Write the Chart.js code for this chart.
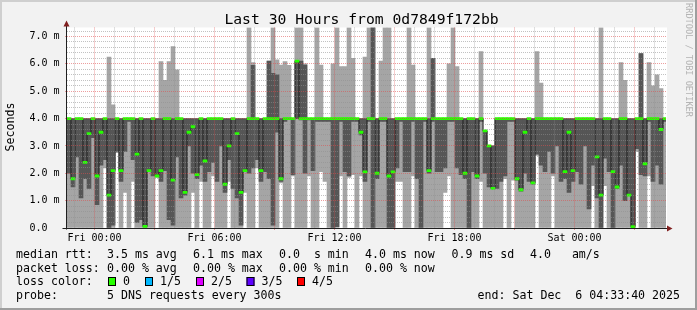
<!DOCTYPE html>
<html><head><meta charset="utf-8">
<script src="https://cdn.jsdelivr.net/npm/chart.js@4.4.1/dist/chart.umd.min.js"></script>
<style>html,body{margin:0;padding:0;background:#f2f2f2;}canvas{display:block;}</style>
</head><body>
<div style="width:697px;height:310px;position:relative"><canvas id="c" width="697" height="310"></canvas></div>
<script>
// time axis in hours relative to Fri 00:00; each column = 12 minutes
const START_HOUR = -1.375, END_HOUR = 28.575, STEP = 0.2;

// smoke: min, 2nd ping, median, 4th ping, max (ms)
const pingMin = [
0,0,0,0,0,0,0,0,0,2.2, 0,0,2.75,0,1.3,0,1.7,0,0,0,
0,0,1.85,0,0,0,0,0,0,0, 0,1.3,0,1.7,0,0,1.9,0,0,0,
1.7,0,0,0,1.3,0,0,2.2,0,0, 0,0,0,1.65,0,0,1.9,0,0,0,
1.9,0,0,2.06,1.7,0,0,0,1.9,0, 1.85,1.95,0,1.9,0,0,0,0,0,0,
0,0,1.7,1.7,0,0,1.9,0,0,0, 0,0,0,0,1.3,1.9,0,0,0,0,
0,0,0,1.7,0,0,0,0,0,1.8, 0,1.75,0,0,0,0,0,2.65,0,0,
0,1.9,0,0,0,0,0,0,0,0, 0,1.55,0,0,1.55,0,0,0,0,0,
0,0,2.8,0,0,1.9,0,0,0,0];
const pingLow = [
2.0,1.5,2.6,1.1,1.8,1.45,3.3,0.85,2.3,2.5, 0.0,0.1,2.8,1.7,2.8,3.9,2.5,0.2,0.3,0.05,
2.1,1.9,1.9,1.7,2.1,0.3,0.1,2.6,1.1,1.2, 3.0,2.0,1.8,2.3,1.7,2.06,2.4,1.7,3.0,1.3,
2.5,1.45,1.1,0.1,2.06,2.0,2.2,2.5,1.7,2.06, 1.8,0.1,3.5,1.7,3.9,4.0,1.95,4.0,3.95,2.0,
3.95,2.1,3.9,3.9,3.9,3.9,0.0,0.05,3.9,2.06, 1.9,3.9,3.9,3.4,1.7,3.9,0.0,1.8,3.9,3.9,
0.0,0.0,2.2,3.9,2.06,2.06,3.9,1.8,0.0,3.9, 2.0,3.9,2.06,2.06,2.2,3.9,3.9,2.2,1.95,1.8,
0.0,2.06,1.8,3.9,2.0,1.5,1.45,1.45,1.7,1.9, 3.9,3.9,1.75,1.35,2.0,1.7,1.6,2.7,2.3,2.06,
2.8,2.0,3.0,1.7,1.8,1.3,1.7,2.06,1.6,3.0, 0.7,2.3,1.1,0.0,2.55,2.06,0.0,1.45,2.3,1.0,
1.2,0.03,2.9,1.95,1.9,3.9,1.7,2.3,1.6,3.9];
const pingMedian = [
4,1.8,4,4,2.4,3.45,4,1.9,3.5,4, 1.2,2.1,4,2.1,4,4,4,2.7,4,0.06,
2.1,4,1.9,2.1,4,4,1.75,4,4,1.3, 3.5,3.7,1.95,4,2.45,4,4,4,4,1.6,
3.0,4,3.45,1.3,2.1,4,4,4,2.1,4, 4,4,4,1.8,4,4,4,6.1,4,4,
4,4,4,4,4,4,4,4,4,4, 4,4,4,3.5,2.05,4,4,2.0,4,4,
1.9,2.05,4,4,4,4,4,4,4,4, 2.1,4,4,4,4,4,4,4,4,2.0,
4,4,1.9,4,3.55,3.0,1.45,4,4,4, 4,4,1.8,1.4,3.5,4,1.65,4,4,4,
4,4,4,4,2.06,3.5,2.1,4,4,4, 4,4,2.6,1.2,4,4,2.06,1.5,4,4,
1.2,0.05,4,4,2.35,4,4,4,3.6,4];
const pingHigh = [
4,4,4,4,4,4,4,4,4,4, 4,4,4,4,4,4,4,4,4,4,
4,4,4,4,4,4,4,4,4,4, 4,4,4,4,4,4,4,4,4,4,
4,4,4,4,4,4,5.95,4,4,4, 6.1,5.65,5.6,4,4,4,4,6.1,6.1,5.96,
4,4,4,4,4,4,4,4,4,4, 4,4,4,4,4,4,7.33,4,4,4,
4,4,4,4,4,4,4,4,4,4, 4,6.2,4,4,4,4,4,4,4,4,
4,4,4,4,3.55,3.0,3.0,4,4,4, 4,4,4,4,4,4,4,4,4,4,
4,4,4,4,4,4,4,4,4,4, 4,4,4,4,4,4,4,4,4,4,
4,4,4,6.38,4,4,4,4,4,4];
const pingMax = [
4,4,4,4,4,4,4,4,4,4, 6.25,4.5,4,4,4,4,4,4,4,4,
4,4,4,6.08,5.4,6.08,6.63,5.78,4,4, 4,4,4,4,4,4,4,4,4,4,
4,4,4,4,4,7.33,6.05,4,4,4, 6.1,7.33,6.15,5.96,6.08,5.95,4,7.33,7.33,6.0,
4,4,7.33,5.96,4,4,6.0,7.33,5.9,5.9, 7.33,6.2,4,4,6.25,7.33,7.33,4,6.1,7.33,
7.33,4,4,4,4,7.33,5.96,4,4,4, 7.33,6.2,4,4,4,6.0,7.33,5.9,4,4,
4,4,4,6.45,3.55,3.0,3.0,4,4,4, 4,4,4,4,4,4,4,6.45,5.3,4,
4,4,4,4,4,4,4,4,4,4, 4,4,4,7.33,4,4,4,4,6.05,5.4,
4,4,4,6.38,4,6.05,5.2,5.6,5.1,4];

const xGridHours = [-1,0,1,2,3,4,5,6,7,8,9,10,11,12,13,14,15,16,17,18,19,20,21,22,23,24,25,26,27,28];
const xLabelHours = [0, 6, 12, 18, 24];
const xLabelNames = ['Fri 00:00', 'Fri 06:00', 'Fri 12:00', 'Fri 18:00', 'Sat 00:00'];
const yTickLabels = ['0.0  ', '1.0 m', '2.0 m', '3.0 m', '4.0 m', '5.0 m', '6.0 m', '7.0 m'];
const Y_MAX = 7.33;

const lossLabels = ['0', '1/5', '2/5', '3/5', '4/5'];
const lossColors = ['#26ff00', '#00b8ff', '#dd00ff', '#5e00ff', '#ff0000'];

const MAJOR = 'rgba(222,79,79,0.55)';
const MINOR = 'rgba(143,143,143,0.55)';
const FONT = "'DejaVu Sans Mono', monospace";

const times = pingMin.map((_, i) => START_HOUR + STEP * (i + 0.5));
const band = (lo, hi) => times.map((t, i) => ({x: t, y: [lo[i], hi[i]]}));
const medianPts = times.map((t, i) => ({x: t, y: pingMedian[i]}));
const medianMarks = times.map((t, i) => ({x: t, y: [pingMedian[i] - 0.04, pingMedian[i] + 0.04]}));

const isInt = v => Math.abs(v - Math.round(v)) < 1e-6;

const decor = {
  id: 'decor',
  beforeDraw(chart) {
    const {ctx, chartArea: a} = chart;
    ctx.save();
    ctx.fillStyle = '#f2f2f2'; ctx.fillRect(0, 0, 697, 310);
    ctx.fillStyle = '#cfcfcf'; ctx.fillRect(0, 0, 697, 2); ctx.fillRect(0, 0, 2, 310);
    ctx.fillStyle = '#9e9e9e'; ctx.fillRect(0, 308, 697, 2); ctx.fillRect(695, 0, 2, 310);
    ctx.fillStyle = '#ffffff'; ctx.fillRect(a.left, a.top, a.right - a.left + 1, a.bottom - a.top);
    ctx.restore();
  },
  afterDraw(chart) {
    const {ctx, chartArea: a} = chart;
    ctx.save();
    // axes
    ctx.strokeStyle = '#1f1f1f'; ctx.lineWidth = 1;
    const ax = Math.round(a.left) - 0.5, ay = Math.round(a.bottom) + 0.5;
    ctx.beginPath(); ctx.moveTo(ax, ay + 1); ctx.lineTo(ax, 24); ctx.stroke();
    ctx.beginPath(); ctx.moveTo(ax - 4, ay); ctx.lineTo(a.right + 3, ay); ctx.stroke();
    ctx.fillStyle = '#801f1f';
    ctx.beginPath(); ctx.moveTo(ax - 3, 26.5); ctx.lineTo(ax + 3, 26.5); ctx.lineTo(ax, 20.5); ctx.closePath(); ctx.fill();
    ctx.beginPath(); ctx.moveTo(a.right + 1, ay - 3); ctx.lineTo(a.right + 1, ay + 3); ctx.lineTo(a.right + 6.5, ay); ctx.closePath(); ctx.fill();

    // title
    ctx.fillStyle = '#000';
    ctx.font = '14.7px ' + FONT; ctx.textAlign = 'center'; ctx.textBaseline = 'alphabetic';
    ctx.fillText('Last 30 Hours from 0d7849f172bb', 361.5, 24);

    // y axis title
    ctx.save(); ctx.translate(11, 127); ctx.rotate(-Math.PI / 2);
    ctx.font = '11.6px ' + FONT; ctx.textBaseline = 'middle'; ctx.textAlign = 'center';
    ctx.fillText('Seconds', 0, 0); ctx.restore();

    // watermark
    ctx.save(); ctx.translate(688, 60); ctx.rotate(Math.PI / 2);
    ctx.font = '8.6px ' + FONT; ctx.fillStyle = '#b4b4b4'; ctx.textBaseline = 'middle'; ctx.textAlign = 'center';
    ctx.fillText('RRDTOOL / TOBI OETIKER', 0, 0); ctx.restore();

    // legend
    ctx.font = '11.6px ' + FONT; ctx.textAlign = 'left'; ctx.textBaseline = 'alphabetic'; ctx.fillStyle = '#000';
    const row = (y, parts) => parts.forEach(([x, s]) => ctx.fillText(s, x, y));
    row(258, [[16, 'median rtt:'], [107, '3.5 ms avg'], [193, '6.1 ms max'], [279, '0.0  s min'],
              [365, '4.0 ms now'], [451.5, '0.9 ms sd'], [530, '4.0   am/s']]);
    row(271.8, [[16, 'packet loss:'], [107, '0.00 % avg'], [193, '0.00 % max'], [279, '0.00 % min'], [365, '0.00 % now']]);
    row(285.3, [[16, 'loss color:']]);
    const boxX = [108, 145, 196, 246.5, 297];
    lossLabels.forEach((lab, i) => {
      ctx.fillStyle = lossColors[i]; ctx.fillRect(boxX[i], 277, 8, 9);
      ctx.strokeStyle = '#000'; ctx.strokeRect(boxX[i] + 0.5, 277.5, 7, 8);
      ctx.fillStyle = '#000'; ctx.fillText(lab, boxX[i] + 15, 285.3);
    });
    row(299.3, [[16, 'probe:'], [107, '5 DNS requests every 300s']]);
    ctx.textAlign = 'right';
    ctx.fillText('end: Sat Dec  6 04:33:40 2025', 680, 299.3);
    ctx.restore();
  }
};

const barCommon = {type: 'bar', grouped: false, barPercentage: 1, categoryPercentage: 1, borderWidth: 0};

new Chart(document.getElementById('c'), {
  type: 'bar',
  data: {
    datasets: [
      Object.assign({label: 'outer smoke', data: band(pingMin, pingMax), backgroundColor: '#a5a5a5', order: 4}, barCommon),
      Object.assign({label: 'inner smoke', data: band(pingLow, pingHigh), backgroundColor: '#565656', order: 3}, barCommon),
      {type: 'line', label: 'median', data: medianPts, borderColor: '#1e1e1e', borderWidth: 1,
       pointRadius: 0, stepped: 'middle', order: 2},
      Object.assign({label: 'loss 0', data: medianMarks, backgroundColor: '#26ff00', order: 1}, barCommon)
    ]
  },
  options: {
    responsive: false, animation: false, devicePixelRatio: 1, events: [],
    layout: {padding: {top: 27.5, right: 31, left: 0, bottom: 0}},
    plugins: {legend: {display: false}, tooltip: {enabled: false}, title: {display: false}},
    scales: {
      x: {
        type: 'linear', min: START_HOUR, max: END_HOUR, offset: false,
        afterBuildTicks: s => { s.ticks = xGridHours.map(v => ({value: v})); },
        afterFit: s => { s.height = 82; },
        grid: {
          z: 1, offset: false, drawTicks: true, tickLength: 2,
          color: c => (c.tick && c.tick.value % 3 === 0) ? MAJOR : MINOR,
          tickColor: c => (c.tick && c.tick.value % 3 === 0) ? MAJOR : 'rgba(0,0,0,0)'
        },
        border: {display: false, dash: [1, 1]},
        ticks: {
          autoSkip: false, maxRotation: 0, padding: 2, color: '#000',
          font: {family: FONT, size: 10},
          callback: v => { const k = xLabelHours.indexOf(v); return k >= 0 ? xLabelNames[k] : ''; }
        }
      },
      y: {
        type: 'linear', min: 0, max: Y_MAX,
        afterBuildTicks: s => {
          const t = []; for (let i = 0; i <= 36; i++) t.push({value: Math.round(i * 2) / 10});
          s.ticks = t;
        },
        afterFit: s => { s.width = 67; },
        grid: {
          z: 1, drawTicks: true, tickLength: 2,
          color: c => (!c.tick || c.tick.value === 0) ? 'rgba(0,0,0,0)' : (isInt(c.tick.value) ? MAJOR : MINOR),
          tickColor: c => (c.tick && isInt(c.tick.value) && c.tick.value > 0) ? MAJOR : 'rgba(0,0,0,0)'
        },
        border: {display: false, dash: [1, 1]},
        ticks: {
          autoSkip: false, padding: 5.5, color: '#000',
          font: {family: FONT, size: 10},
          callback: v => isInt(v) ? yTickLabels[Math.round(v)] : ''
        }
      }
    }
  },
  plugins: [decor]
});
</script>
</body></html>
